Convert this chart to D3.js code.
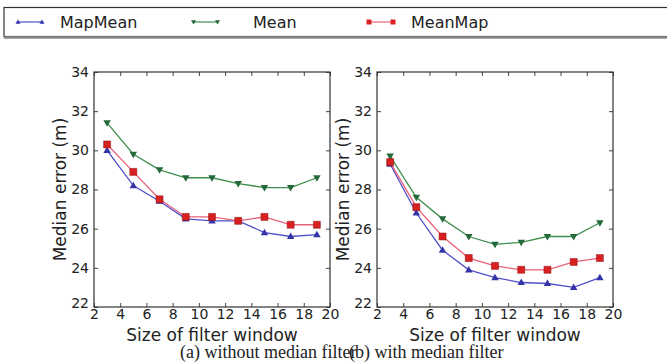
<!DOCTYPE html>
<html>
<head>
<meta charset="utf-8">
<script src="https://cdn.jsdelivr.net/npm/d3@7"></script>
<style>
  body { margin: 0; background: #fff; }
  svg text { font-family: "DejaVu Sans", sans-serif; fill: #222; }
  .caption { font-family: "Liberation Serif", serif; }
</style>
</head>
<body>
<div id="chart"></div>
<script>
const windowSizes = [3, 5, 7, 9, 11, 13, 15, 17, 19];
const xTicks = [2, 4, 6, 8, 10, 12, 14, 16, 18, 20];
const yTicks = [22, 24, 26, 28, 30, 32, 34];

// (a) without median filter
const mapMeanA = [30.0, 28.2, 27.4, 26.5, 26.4, 26.4, 25.8, 25.6, 25.7];
const meanA = [31.4, 29.8, 29.0, 28.6, 28.6, 28.3, 28.1, 28.1, 28.6];
const meanMapA = [30.3, 28.9, 27.5, 26.6, 26.6, 26.4, 26.6, 26.2, 26.2];

// (b) with median filter
const mapMeanB = [29.3, 26.8, 24.9, 23.9, 23.5, 23.25, 23.2, 23.0, 23.5];
const meanB = [29.7, 27.6, 26.5, 25.6, 25.2, 25.3, 25.6, 25.6, 26.3];
const meanMapB = [29.4, 27.1, 25.6, 24.5, 24.1, 23.9, 23.9, 24.3, 24.5];

const seriesNames = ['MapMean', 'Mean', 'MeanMap'];
const captions = ['(a) without median filter', '(b) with median filter'];

const W = 667, H = 364;
const styles = {
  MapMean: { line: '#5050c8', fill: '#3434a8', marker: 'up' },
  Mean: { line: '#3f8f4f', fill: '#24693a', marker: 'down' },
  MeanMap: { line: '#e8607a', fill: '#d82020', marker: 'square' },
};

const svg = d3.select('#chart').append('svg')
  .attr('width', W).attr('height', H);

// legend box
const legend = svg.append('g');
legend.append('rect')
  .attr('x', 4).attr('y', 7.5).attr('width', 680).attr('height', 29)
  .attr('fill', '#fff').attr('stroke', '#333').attr('stroke-width', 1.2);
legend.append('line')
  .attr('x1', 4).attr('x2', 667).attr('y1', 37.5).attr('y2', 37.5)
  .attr('stroke', '#8a8a8a').attr('stroke-width', 2.5);

const legendX = d3.scalePoint().domain(seriesNames).range([15, 366]);
const legendTextX = { MapMean: 60, Mean: 253, MeanMap: 411 };

function markerPath(type, size) {
  if (type === 'square') return d3.symbol(d3.symbolSquare, size * size)();
  const s = size;
  const h = s * 0.866;
  if (type === 'up') return `M0,${-h * 0.6}L${s / 2},${h * 0.4}L${-s / 2},${h * 0.4}Z`;
  return `M0,${h * 0.6}L${s / 2},${-h * 0.4}L${-s / 2},${-h * 0.4}Z`;
}

seriesNames.forEach((name) => {
  const st = styles[name];
  const x0 = legendX(name);
  const g = legend.append('g').attr('transform', `translate(${x0},22)`);
  g.append('line').attr('x1', 3).attr('x2', 27)
    .attr('stroke', st.line).attr('stroke-width', 1.2);
  [3, 27].forEach((mx) => {
    g.append('path').attr('d', markerPath(st.marker, 5))
      .attr('transform', `translate(${mx},0)`)
      .attr('fill', st.fill);
  });
  legend.append('text')
    .attr('x', legendTextX[name]).attr('y', 22)
    .attr('dy', '0.36em')
    .attr('font-size', 16)
    .text(name);
});

const panels = [
  { left: 94, data: { MapMean: mapMeanA, Mean: meanA, MeanMap: meanMapA } },
  { left: 377, data: { MapMean: mapMeanB, Mean: meanB, MeanMap: meanMapB } },
];
const plotW = 236, plotTop = 72, plotH = 235;

panels.forEach((p, i) => {
  const x = d3.scaleLinear().domain([2, 20]).range([p.left, p.left + plotW]);
  const y = d3.scaleLinear().domain([22, 34]).range([plotTop + plotH, plotTop]);
  const g = svg.append('g');

  // inward ticks on all four sides
  const axes = [
    { axis: d3.axisBottom(x), t: `translate(0,${plotTop + plotH})`, labels: true },
    { axis: d3.axisTop(x), t: `translate(0,${plotTop})`, labels: false },
    { axis: d3.axisLeft(y), t: `translate(${p.left},0)`, labels: true },
    { axis: d3.axisRight(y), t: `translate(${p.left + plotW},0)`, labels: false },
  ];
  axes.forEach((a, k) => {
    const isX = k < 2;
    const ax = a.axis.tickValues(isX ? xTicks : yTicks)
      .tickSizeInner(-4).tickSizeOuter(0).tickPadding(isX ? 5 : 6);
    const ag = g.append('g').attr('transform', a.t).call(ax);
    ag.select('.domain').remove();
    ag.selectAll('.tick line').attr('stroke', '#444');
    if (!a.labels) ag.selectAll('.tick text').remove();
    else ag.selectAll('.tick text')
      .attr('font-size', 14).attr('fill', '#222')
      .attr('font-family', '"DejaVu Sans", sans-serif');
    if (isX && a.labels) ag.selectAll('.tick text').attr('y', 2);
    if (!isX && a.labels) {
      ag.selectAll('.tick text').attr('x', -5);
      ag.selectAll('.tick').filter((d) => d === 22).select('text').attr('dy', '0.05em');
    }
  });

  // frame
  g.append('rect')
    .attr('x', p.left).attr('y', plotTop).attr('width', plotW).attr('height', plotH)
    .attr('fill', 'none').attr('stroke', '#333').attr('stroke-width', 1.2);

  const line = d3.line().x((d) => x(d[0])).y((d) => y(d[1]));
  seriesNames.forEach((name) => {
    const st = styles[name];
    const pts = windowSizes.map((w, j) => [w, p.data[name][j]]);
    g.append('path').datum(pts)
      .attr('d', line).attr('fill', 'none')
      .attr('stroke', st.line).attr('stroke-width', 1.3);
    g.selectAll(null).data(pts).join('path')
      .attr('d', markerPath(st.marker, st.marker === 'square' ? 7 : 7.5))
      .attr('transform', (d) => `translate(${x(d[0])},${y(d[1])})`)
      .attr('fill', st.fill)
      .attr('stroke', st.marker === 'square' ? '#8a1010' : 'none')
      .attr('stroke-width', 0.5);
  });

  // axis titles
  g.append('text')
    .attr('x', p.left + plotW / 2).attr('y', 341)
    .attr('text-anchor', 'middle').attr('font-size', 17)
    .text('Size of filter window');
  g.append('text')
    .attr('transform', `translate(${p.left - 28},${plotTop + plotH / 2}) rotate(-90)`)
    .attr('text-anchor', 'middle').attr('font-size', 17)
    .text('Median error (m)');
});

// captions (overlapping as in the original)
svg.append('text').attr('class', 'caption')
  .attr('x', 180).attr('y', 358).attr('font-size', 18)
  .text(captions[0]);
svg.append('text').attr('class', 'caption')
  .attr('x', 349).attr('y', 358).attr('font-size', 18)
  .text(captions[1]);
</script>
</body>
</html>
